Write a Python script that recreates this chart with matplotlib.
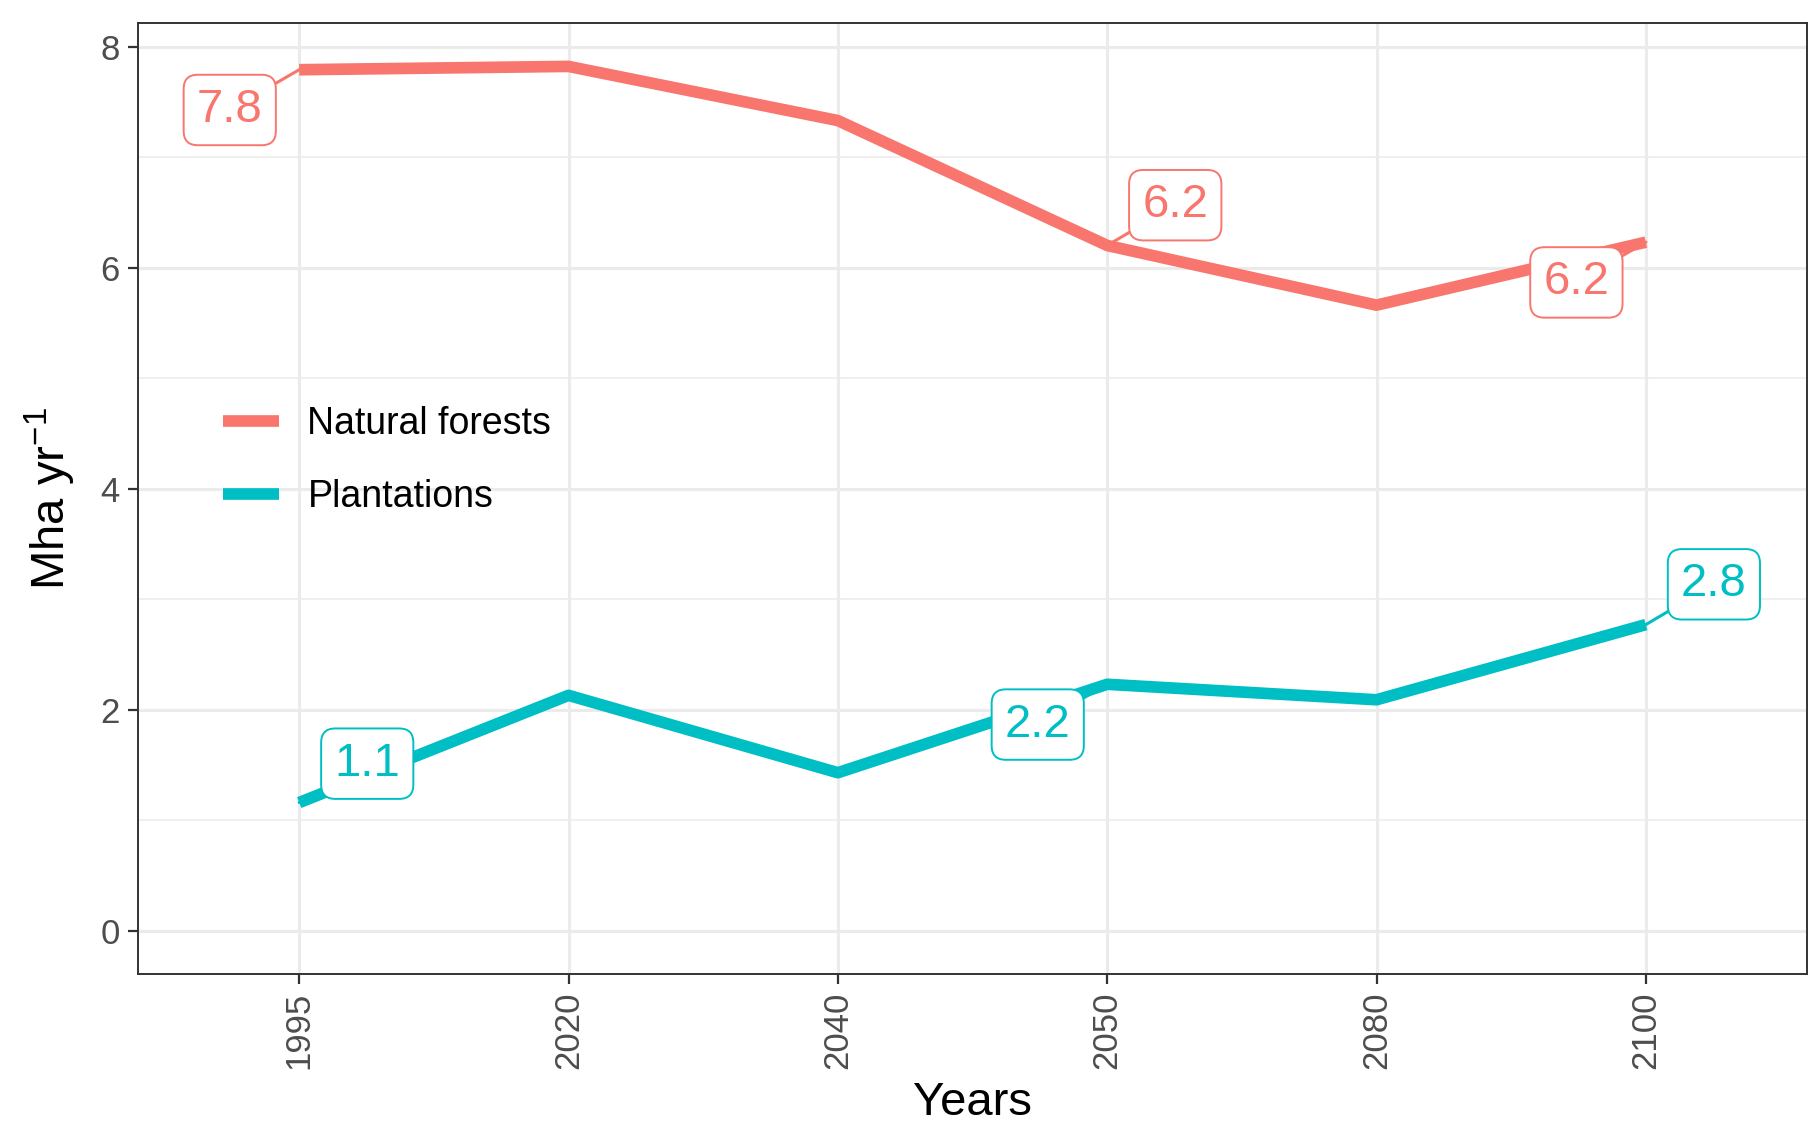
import numpy as np
import matplotlib
matplotlib.use('Agg')
import matplotlib.pyplot as plt
from matplotlib.ticker import MultipleLocator

plt.rcParams['font.family'] = ['Liberation Sans', 'DejaVu Sans']
plt.rcParams['mathtext.fontset'] = 'custom'
plt.rcParams['mathtext.rm'] = 'Liberation Sans'
plt.rcParams['mathtext.it'] = 'Liberation Sans:italic'

# ---- data ----
years = ['1995', '2020', '2040', '2050', '2080', '2100']
natural = [7.79, 7.82, 7.33, 6.20, 5.66, 6.23]
plantations = [1.16, 2.13, 1.43, 2.23, 2.09, 2.77]

# labelled years and their label texts
label_years = ['1995', '2050', '2100']
natural_labels = ['7.8', '6.2', '6.2']
plantation_labels = ['1.1', '2.2', '2.8']

RED = '#F8766D'
CYAN = '#00BFC4'
GRID = '#EBEBEB'
DARK = '#333333'

fig = plt.figure(figsize=(9.1, 5.68), dpi=200)
ax = fig.add_axes([0.0756, 0.1427, 0.9175, 0.8368])

x = np.arange(1, len(years) + 1)
ax.plot(x, natural, color=RED, lw=4.2, label='Natural forests',
        solid_capstyle='butt', zorder=3)
ax.plot(x, plantations, color=CYAN, lw=4.2, label='Plantations',
        solid_capstyle='butt', zorder=3)

# repel-style labels (offsets in points)
nat_off = [(-25, -14.5), (24.5, 14.5), (-25, -14.5)]
pla_off = [(24.5, 14), (-25, -14.5), (24.5, 14.5)]


def add_labels(vals, texts, offs, color):
    for yr, t, (dx, dy) in zip(label_years, texts, offs):
        i = years.index(yr)
        ax.annotate(t, xy=(x[i], vals[i]), xytext=(dx, dy),
                    textcoords='offset points', ha='center', va='center',
                    fontsize=17, color=color, zorder=5,
                    bbox=dict(boxstyle='round,pad=0.28,rounding_size=0.3',
                              fc='white', ec=color, lw=0.7),
                    arrowprops=dict(arrowstyle='-', color=color, lw=1.1,
                                    shrinkA=0, shrinkB=0))


add_labels(natural, natural_labels, nat_off, RED)
add_labels(plantations, plantation_labels, pla_off, CYAN)

ax.set_xlim(0.4, 6.6)
ax.set_ylim(-0.39, 8.21)
ax.set_xticks(x)
ax.set_xticklabels(years, rotation=90)
ax.yaxis.set_major_locator(MultipleLocator(2))
ax.yaxis.set_minor_locator(MultipleLocator(1))

ax.grid(True, which='major', color=GRID, lw=1.1, zorder=0)
ax.grid(True, which='minor', axis='y', color=GRID, lw=0.55, zorder=0)
ax.set_axisbelow(True)
ax.tick_params(which='minor', length=0)
ax.tick_params(which='major', length=3.5, width=0.8, color=DARK,
               labelsize=12.5, labelcolor='#4D4D4D', pad=3)
for sp in ax.spines.values():
    sp.set_color(DARK)
    sp.set_linewidth(0.7)

ax.set_xlabel('Years', fontsize=17, labelpad=4)
ax.set_ylabel('Mha yr$^{-1}$', fontsize=17, labelpad=8)

leg = ax.legend(loc='center left', bbox_to_anchor=(0.031, 0.54),
                frameon=False, fontsize=13.5, handlelength=1.5,
                handletextpad=0.75, labelspacing=1.0)
for h in leg.get_lines():
    h.set_linewidth(4.2)

fig.savefig('out.png', dpi=200)
